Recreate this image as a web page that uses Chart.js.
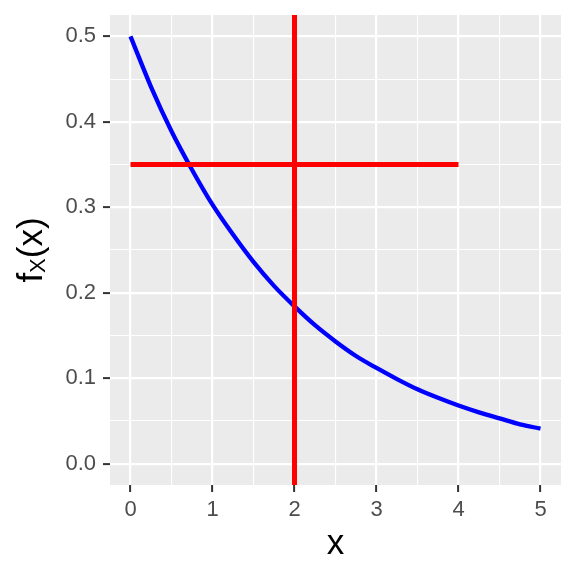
<!DOCTYPE html>
<html>
<head>
<meta charset="utf-8">
<script src="https://cdn.jsdelivr.net/npm/chart.js@4"></script>
<style>
  html, body { margin: 0; padding: 0; background: #ffffff; }
  #wrap { width: 576px; height: 576px; }
</style>
</head>
<body>
<div id="wrap"><canvas id="chart"></canvas></div>
<script>
// density curve
const curveX = [0, 0.25, 0.5, 0.75, 1, 1.25, 1.5, 1.75, 2, 2.25, 2.5, 2.75, 3, 3.25, 3.5, 3.75, 4, 4.25, 4.5, 4.75, 5];
const curveY = [0.500, 0.441, 0.389, 0.344, 0.303, 0.268, 0.236, 0.208, 0.184, 0.162, 0.143, 0.126, 0.112, 0.099, 0.087, 0.077, 0.068, 0.060, 0.053, 0.046, 0.041];

// red reference lines
const hLineX = [0, 4];
const hLineY = 0.35;
const vLineX = 2;

// axes
const xRange = [-0.25, 5.25];
const yRange = [-0.025, 0.525];
const xMajor = [0, 1, 2, 3, 4, 5];
const xMinor = [0.5, 1.5, 2.5, 3.5, 4.5];
const yMajor = [0, 0.1, 0.2, 0.3, 0.4, 0.5];
const yMinor = [0.05, 0.15, 0.25, 0.35, 0.45];
const xLabels = ['0', '1', '2', '3', '4', '5'];
const yLabels = ['0.0', '0.1', '0.2', '0.3', '0.4', '0.5'];

const FONT = '"Liberation Sans", Arial, Helvetica, sans-serif';

function isMajor(list, v) {
  return list.some(m => Math.abs(m - v) < 1e-9);
}

function setTicks(major, minor) {
  return function(scale) {
    scale.ticks = major.concat(minor).sort((a, b) => a - b).map(v => ({ value: v }));
  };
}

function fixSize(prop, size) {
  return function(scale) {
    scale[prop] = size;
    scale.paddingTop = 0;
    scale.paddingBottom = 0;
    scale.paddingLeft = 0;
    scale.paddingRight = 0;
  };
}

const panelBg = {
  id: 'panelBg',
  beforeDraw(chart) {
    const { ctx, chartArea: a } = chart;
    ctx.save();
    ctx.fillStyle = '#EBEBEB';
    ctx.fillRect(a.left, a.top, a.right - a.left, a.bottom - a.top);
    ctx.restore();
  }
};

// y title with a subscript X
const yTitle = {
  id: 'yTitle',
  afterDraw(chart) {
    const { ctx, chartArea: a } = chart;
    const big = '35px ' + FONT;
    const small = '22px ' + FONT;
    ctx.save();
    ctx.font = big;
    const wf = ctx.measureText('f').width;
    const wr = ctx.measureText('(x)').width;
    ctx.font = small;
    const ws = ctx.measureText('X').width;
    const total = wf + ws + wr;
    ctx.translate(42, (a.top + a.bottom) / 2);
    ctx.rotate(-Math.PI / 2);
    ctx.fillStyle = '#000000';
    ctx.textBaseline = 'alphabetic';
    ctx.textAlign = 'left';
    let x = -total / 2;
    ctx.font = big;
    ctx.fillText('f', x, 0);
    x += wf;
    ctx.font = small;
    ctx.fillText('X', x, 3);
    x += ws;
    ctx.font = big;
    ctx.fillText('(x)', x, 0);
    ctx.restore();
  }
};

function gridStyle(major) {
  return {
    color: '#FFFFFF',
    lineWidth: ctx => isMajor(major, ctx.tick.value) ? 2.2 : 1.1,
    drawTicks: true,
    tickLength: 7,
    tickWidth: 2,
    tickColor: ctx => isMajor(major, ctx.tick.value) ? '#333333' : 'rgba(0,0,0,0)'
  };
}

new Chart(document.getElementById('chart'), {
  type: 'scatter',
  data: {
    datasets: [
      {
        label: 'vertical',
        data: yRange.map(y => ({ x: vLineX, y: y })),
        showLine: true,
        borderColor: '#FF0000',
        borderWidth: 5,
        pointRadius: 0
      },
      {
        label: 'horizontal',
        data: hLineX.map(x => ({ x: x, y: hLineY })),
        showLine: true,
        borderColor: '#FF0000',
        borderWidth: 5,
        pointRadius: 0
      },
      {
        label: 'density',
        data: curveX.map((x, i) => ({ x: x, y: curveY[i] })),
        showLine: true,
        borderColor: '#0000FF',
        borderWidth: 4.3,
        pointRadius: 0,
        cubicInterpolationMode: 'monotone'
      }
    ]
  },
  options: {
    responsive: true,
    maintainAspectRatio: false,
    animation: false,
    events: [],
    layout: { padding: { top: 15, right: 15, left: 0, bottom: 0 } },
    plugins: {
      legend: { display: false },
      tooltip: { enabled: false }
    },
    scales: {
      x: {
        type: 'linear',
        min: xRange[0],
        max: xRange[1],
        afterBuildTicks: setTicks(xMajor, xMinor),
        afterFit: fixSize('height', 91),
        border: { display: false },
        grid: gridStyle(xMajor),
        ticks: {
          autoSkip: false,
          maxRotation: 0,
          padding: 5,
          color: '#4D4D4D',
          font: { family: FONT, size: 22 },
          callback: value => {
            const i = xMajor.findIndex(m => Math.abs(m - value) < 1e-9);
            return i >= 0 ? xLabels[i] : '';
          }
        },
        title: {
          display: true,
          text: 'x',
          color: '#000000',
          font: { family: FONT, size: 35 },
          padding: { top: 0, bottom: 11 }
        }
      },
      y: {
        type: 'linear',
        min: yRange[0],
        max: yRange[1],
        afterBuildTicks: setTicks(yMajor, yMinor),
        afterFit: fixSize('width', 110),
        border: { display: false },
        grid: gridStyle(yMajor),
        ticks: {
          autoSkip: false,
          padding: 7,
          color: '#4D4D4D',
          font: { family: FONT, size: 22 },
          callback: value => {
            const i = yMajor.findIndex(m => Math.abs(m - value) < 1e-9);
            return i >= 0 ? yLabels[i] : '';
          }
        }
      }
    }
  },
  plugins: [panelBg, yTitle]
});
</script>
</body>
</html>
